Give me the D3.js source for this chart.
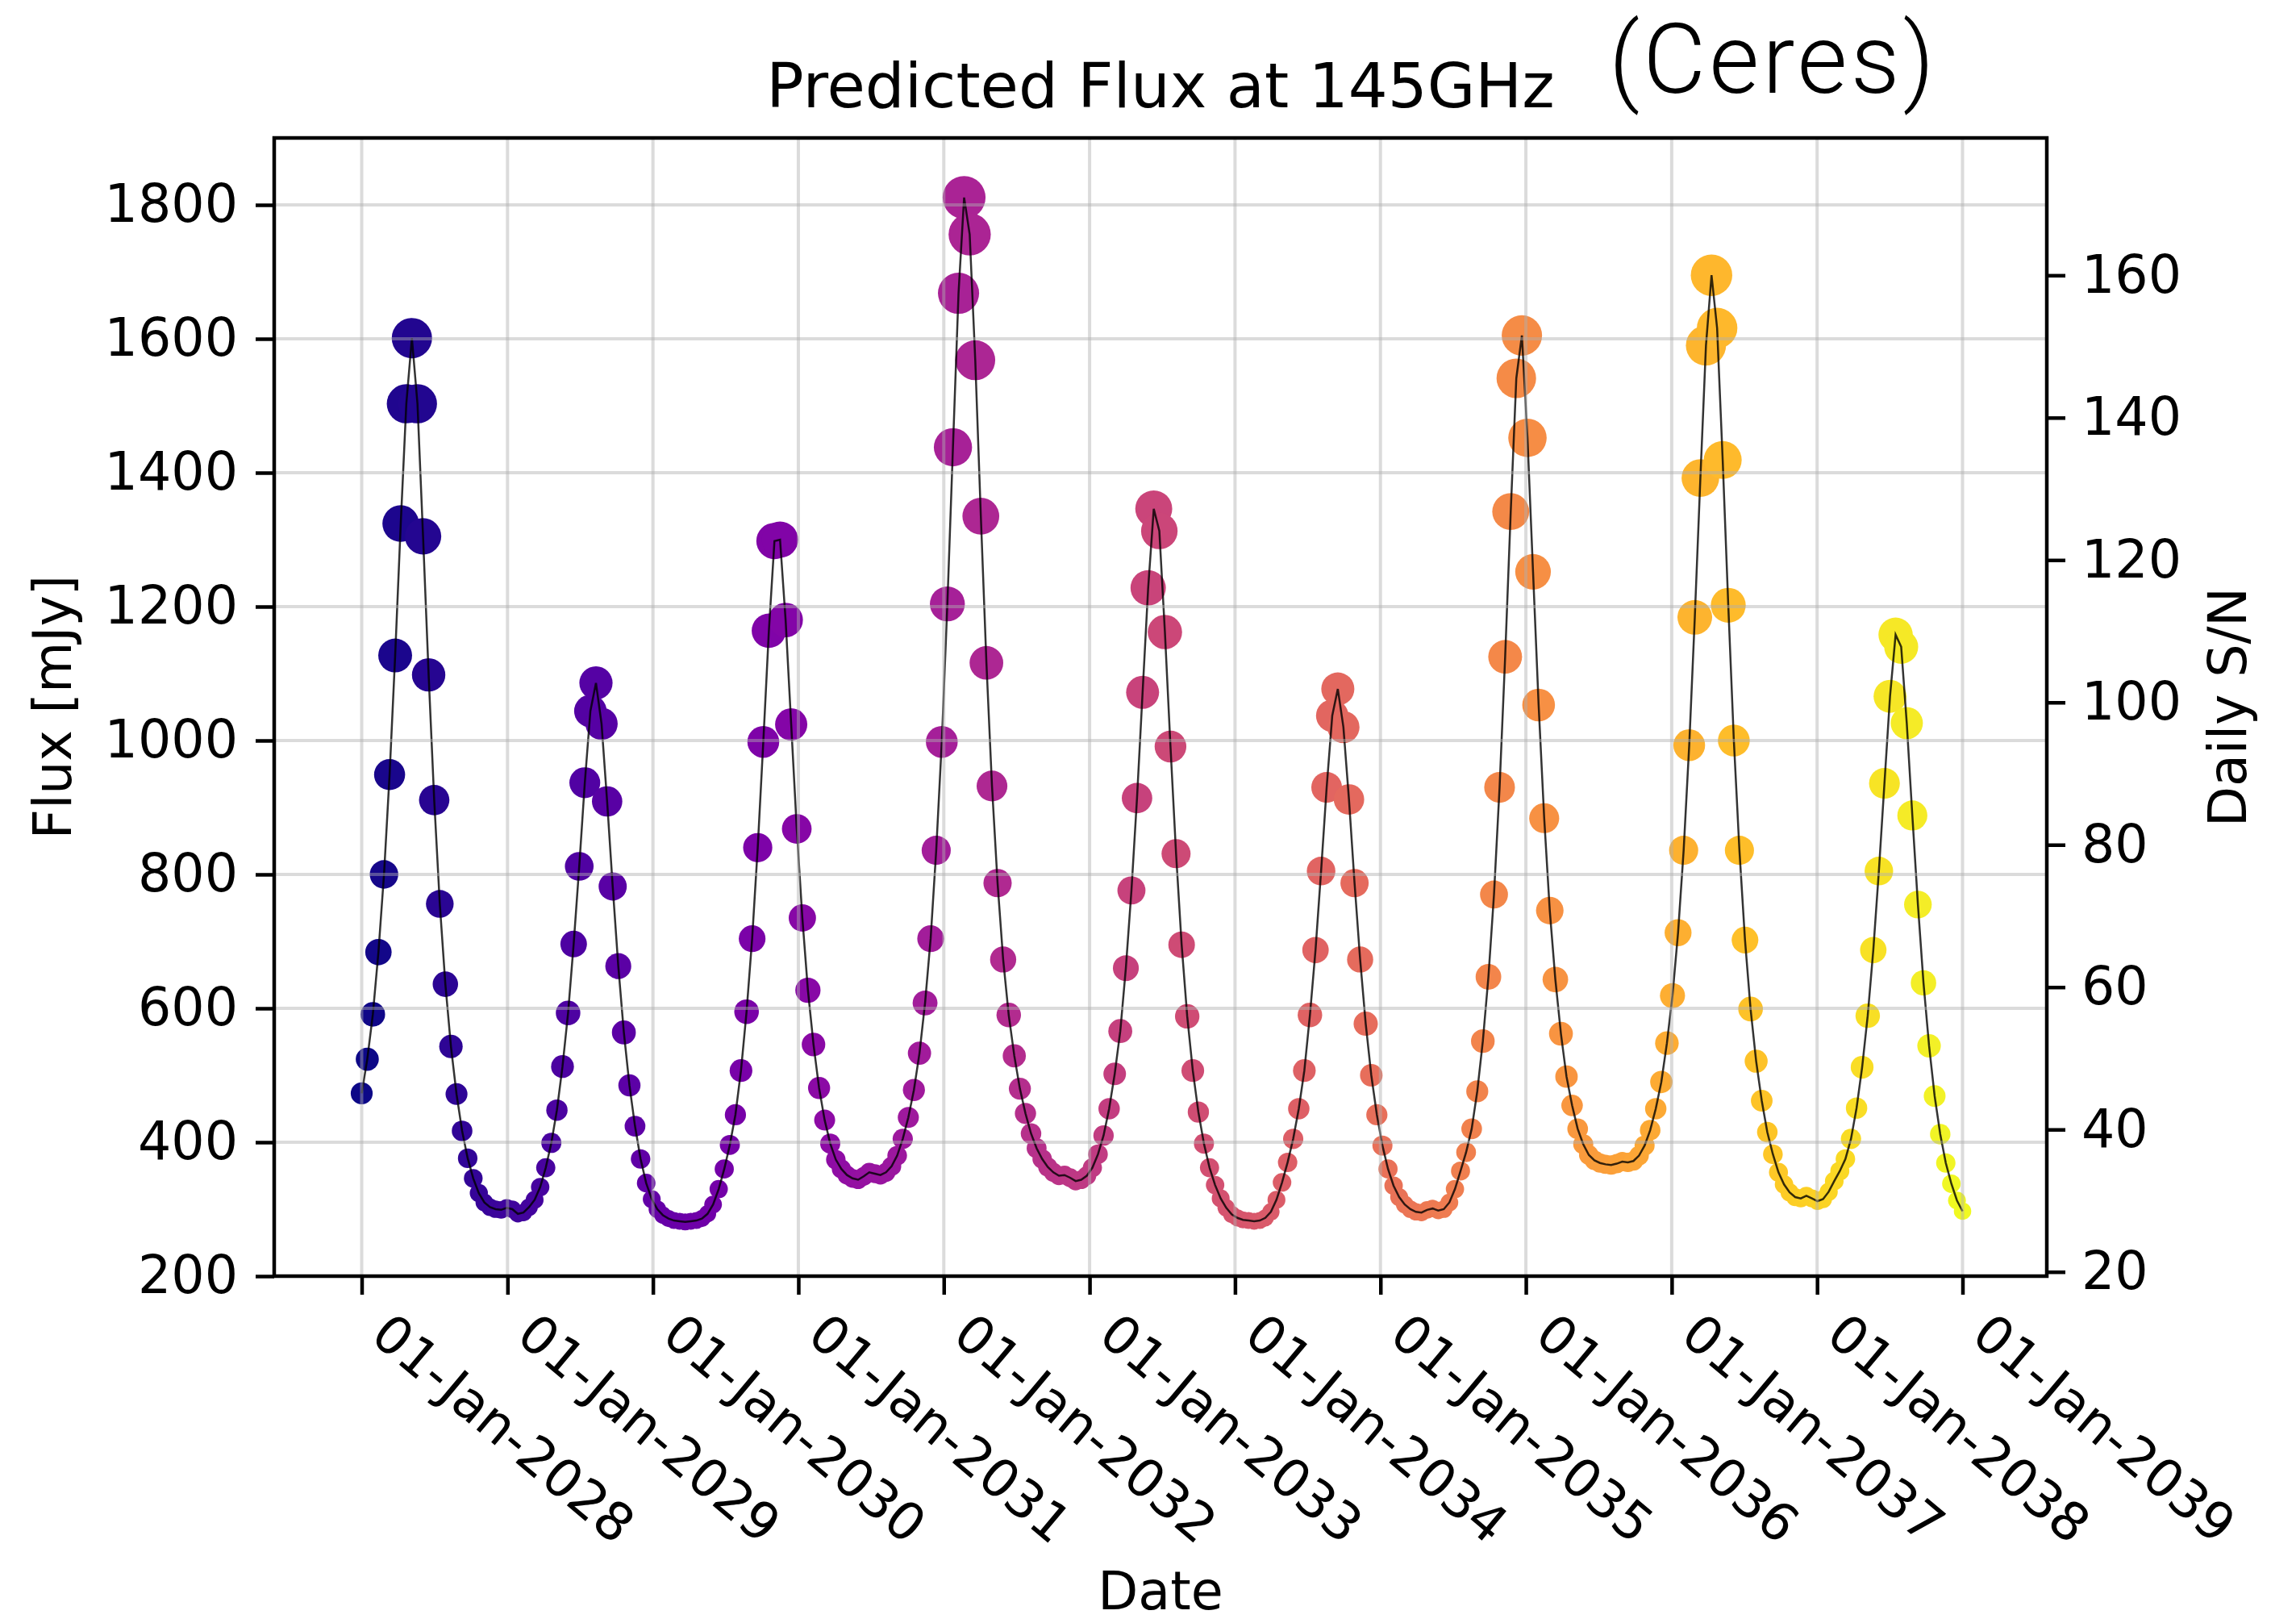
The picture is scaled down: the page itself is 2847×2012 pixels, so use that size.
<!DOCTYPE html>
<html>
<head>
<meta charset="utf-8">
<script src="https://cdn.jsdelivr.net/npm/d3@7"></script>
<style>
  body { margin: 0; background: #fff; }
  text { font-family: "DejaVu Sans", sans-serif; }
</style>
</head>
<body>
<div id="chart"></div>
<script>
// Predicted Flux at 145GHz (Ceres)

// Amostras de 14 em 14 dias a partir de 01-Jan-2028
const startDate = new Date(Date.UTC(2028, 0, 1));
const stepDays = 14;

// Fluxo previsto [mJy]
const flux = [
  473, 524, 591, 684, 800, 949, 1127, 1324, 1503, 1601,
  1503, 1305, 1098, 911, 756, 636, 543, 472, 417, 376,
  346, 324, 310, 303, 300, 299, 302, 300, 293, 295,
  303, 314, 333, 362, 399, 448, 513, 593, 696, 812,
  937, 1044, 1086, 1025, 909, 782, 663, 564, 485, 424,
  375, 339, 315, 300, 291, 286, 283, 282, 281, 282,
  283, 286, 293, 307, 330, 360, 396, 441, 507, 595,
  704, 840, 998, 1164, 1298, 1300, 1180, 1024, 868, 735,
  627, 546, 481, 433, 398, 374, 360, 351, 346, 344,
  349, 355, 353, 351, 355, 364, 380, 405, 437, 478,
  533, 608, 704, 836, 998, 1204, 1438, 1668, 1811, 1756,
  1568, 1335, 1116, 932, 787, 673, 590, 529, 480, 443,
  413, 391, 375, 363, 355, 350, 351, 347, 342, 344,
  350, 362, 382, 410, 450, 502, 566, 660, 776, 914,
  1072, 1228, 1346, 1313, 1162, 991, 831, 695, 588, 507,
  445, 398, 362, 336, 316, 302, 292, 287, 284, 283,
  282, 283, 287, 296, 314, 340, 370, 405, 450, 507,
  590, 687, 805, 930, 1037, 1077, 1020, 912, 787, 673,
  577, 500, 441, 395, 360, 335, 318, 307, 300, 296,
  295, 299, 301, 298, 300, 310, 330, 357, 385, 420,
  476, 551, 647, 770, 930, 1125, 1342, 1541, 1605, 1452,
  1252, 1053, 884, 746, 643, 562, 498, 455, 420, 397,
  381, 373, 369, 367, 366, 368, 371, 370, 372, 380,
  395, 418, 450, 490, 548, 619, 713, 836, 993, 1184,
  1392, 1590, 1695, 1616, 1419, 1202, 1000, 836, 702, 599,
  521, 462, 415, 382, 355, 337, 325, 318, 316, 320,
  316, 312, 315, 326, 342, 357, 375, 405, 451, 512,
  589, 687, 805, 936, 1066, 1158, 1140, 1026, 888, 755,
  638, 544, 469, 412, 369, 338, 313, 297
];

const fluxTicks = [200, 400, 600, 800, 1000, 1200, 1400, 1600, 1800];
const snTicks = [20, 40, 60, 80, 100, 120, 140, 160];
const tickYears = [2028, 2029, 2030, 2031, 2032, 2033, 2034, 2035, 2036, 2037, 2038, 2039];

const data = flux.map((f, i) => ({
  date: d3.utcDay.offset(startDate, i * stepDays),
  flux: f
}));

const width = 2847, height = 2012;
const plotLeft = 340, plotRight = 2538, plotTop = 171, plotBottom = 1582;

const svg = d3.select("#chart")
  .append("svg")
  .attr("width", width)
  .attr("height", height);

// Escalas
const x = d3.scaleUtc()
  .domain([d3.utcHour.offset(startDate, -219.6 * 24), d3.utcHour.offset(new Date(Date.UTC(2039, 0, 1)), 211.5 * 24)])
  .range([plotLeft, plotRight]);

const y = d3.scaleLinear().domain([200, 1900]).range([plotBottom, plotTop]);
const ySN = d3.scaleLinear().domain([19.4, 179.3]).range([plotBottom, plotTop]);
const r = d3.scaleSqrt().domain([0, 1600]).range([0, 25]);
const color = d3.scaleSequential(d3.interpolatePlasma).domain([0, flux.length - 1]);

// Pontos (tamanho ~ fluxo, cor ~ tempo)
svg.append("g")
  .selectAll("circle")
  .data(data)
  .enter()
  .append("circle")
  .attr("cx", d => x(d.date))
  .attr("cy", d => y(d.flux))
  .attr("r", d => r(d.flux))
  .attr("fill", (d, i) => color(i));

// Linha fina por cima
svg.append("path")
  .datum(data)
  .attr("fill", "none")
  .attr("stroke", "#000")
  .attr("stroke-opacity", 0.8)
  .attr("stroke-width", 2.5)
  .attr("d", d3.line().x(d => x(d.date)).y(d => y(d.flux)));

// Grelha
const tickDates = tickYears.map(yr => new Date(Date.UTC(yr, 0, 1)));
const grid = svg.append("g")
  .attr("stroke", "#b0b0b0")
  .attr("stroke-opacity", 0.45)
  .attr("stroke-width", 4);

grid.selectAll(".gx")
  .data(tickDates)
  .enter()
  .append("line")
  .attr("x1", d => x(d)).attr("x2", d => x(d))
  .attr("y1", plotTop).attr("y2", plotBottom);

grid.selectAll(".gy")
  .data(fluxTicks)
  .enter()
  .append("line")
  .attr("x1", plotLeft).attr("x2", plotRight)
  .attr("y1", d => y(d)).attr("y2", d => y(d));

// Eixos
const axisY = svg.append("g")
  .attr("transform", `translate(${plotLeft},0)`)
  .call(d3.axisLeft(y).tickValues(fluxTicks).tickSize(23).tickPadding(22).tickFormat(d3.format("d")));

const axisSN = svg.append("g")
  .attr("transform", `translate(${plotRight},0)`)
  .call(d3.axisRight(ySN).tickValues(snTicks).tickSize(23).tickPadding(20).tickFormat(d3.format("d")));

const axisX = svg.append("g")
  .attr("transform", `translate(0,${plotBottom})`)
  .call(d3.axisBottom(x).tickValues(tickDates).tickSize(23).tickFormat(d3.utcFormat("%d-%b-%Y")));

[axisY, axisSN, axisX].forEach(g => {
  g.attr("font-family", "DejaVu Sans").attr("font-size", 65);
  g.select(".domain").remove();
  g.selectAll(".tick line").attr("stroke", "#000").attr("stroke-width", 4.5);
  g.selectAll(".tick text").attr("fill", "#000");
});

// Datas rodadas 40 graus
axisX.selectAll(".tick text")
  .attr("text-anchor", "start")
  .attr("x", 8)
  .attr("y", 78)
  .attr("dy", 0)
  .attr("transform", "rotate(40,8,78)");

// Moldura
svg.append("rect")
  .attr("x", plotLeft).attr("y", plotTop)
  .attr("width", plotRight - plotLeft).attr("height", plotBottom - plotTop)
  .attr("fill", "none")
  .attr("stroke", "#000")
  .attr("stroke-width", 4.5);

// Titulos
svg.append("text")
  .attr("x", (plotLeft + plotRight) / 2)
  .attr("y", 133)
  .attr("text-anchor", "middle")
  .attr("font-size", 77)
  .text("Predicted Flux at 145GHz");

svg.append("text")
  .attr("x", 1995)
  .attr("y", 115)
  .attr("font-size", 120)
  .attr("font-weight", 300)
  .attr("letter-spacing", 4)
  .style("font-family", "Roboto, 'Liberation Sans', sans-serif")
  .text("(Ceres)");

svg.append("text")
  .attr("x", (plotLeft + plotRight) / 2)
  .attr("y", 1995)
  .attr("text-anchor", "middle")
  .attr("font-size", 65)
  .text("Date");

svg.append("text")
  .attr("transform", `translate(88,${(plotTop + plotBottom) / 2}) rotate(-90)`)
  .attr("text-anchor", "middle")
  .attr("font-size", 65)
  .text("Flux [mJy]");

svg.append("text")
  .attr("transform", `translate(2785,${(plotTop + plotBottom) / 2}) rotate(-90)`)
  .attr("text-anchor", "middle")
  .attr("font-size", 65)
  .text("Daily S/N");
</script>
</body>
</html>
